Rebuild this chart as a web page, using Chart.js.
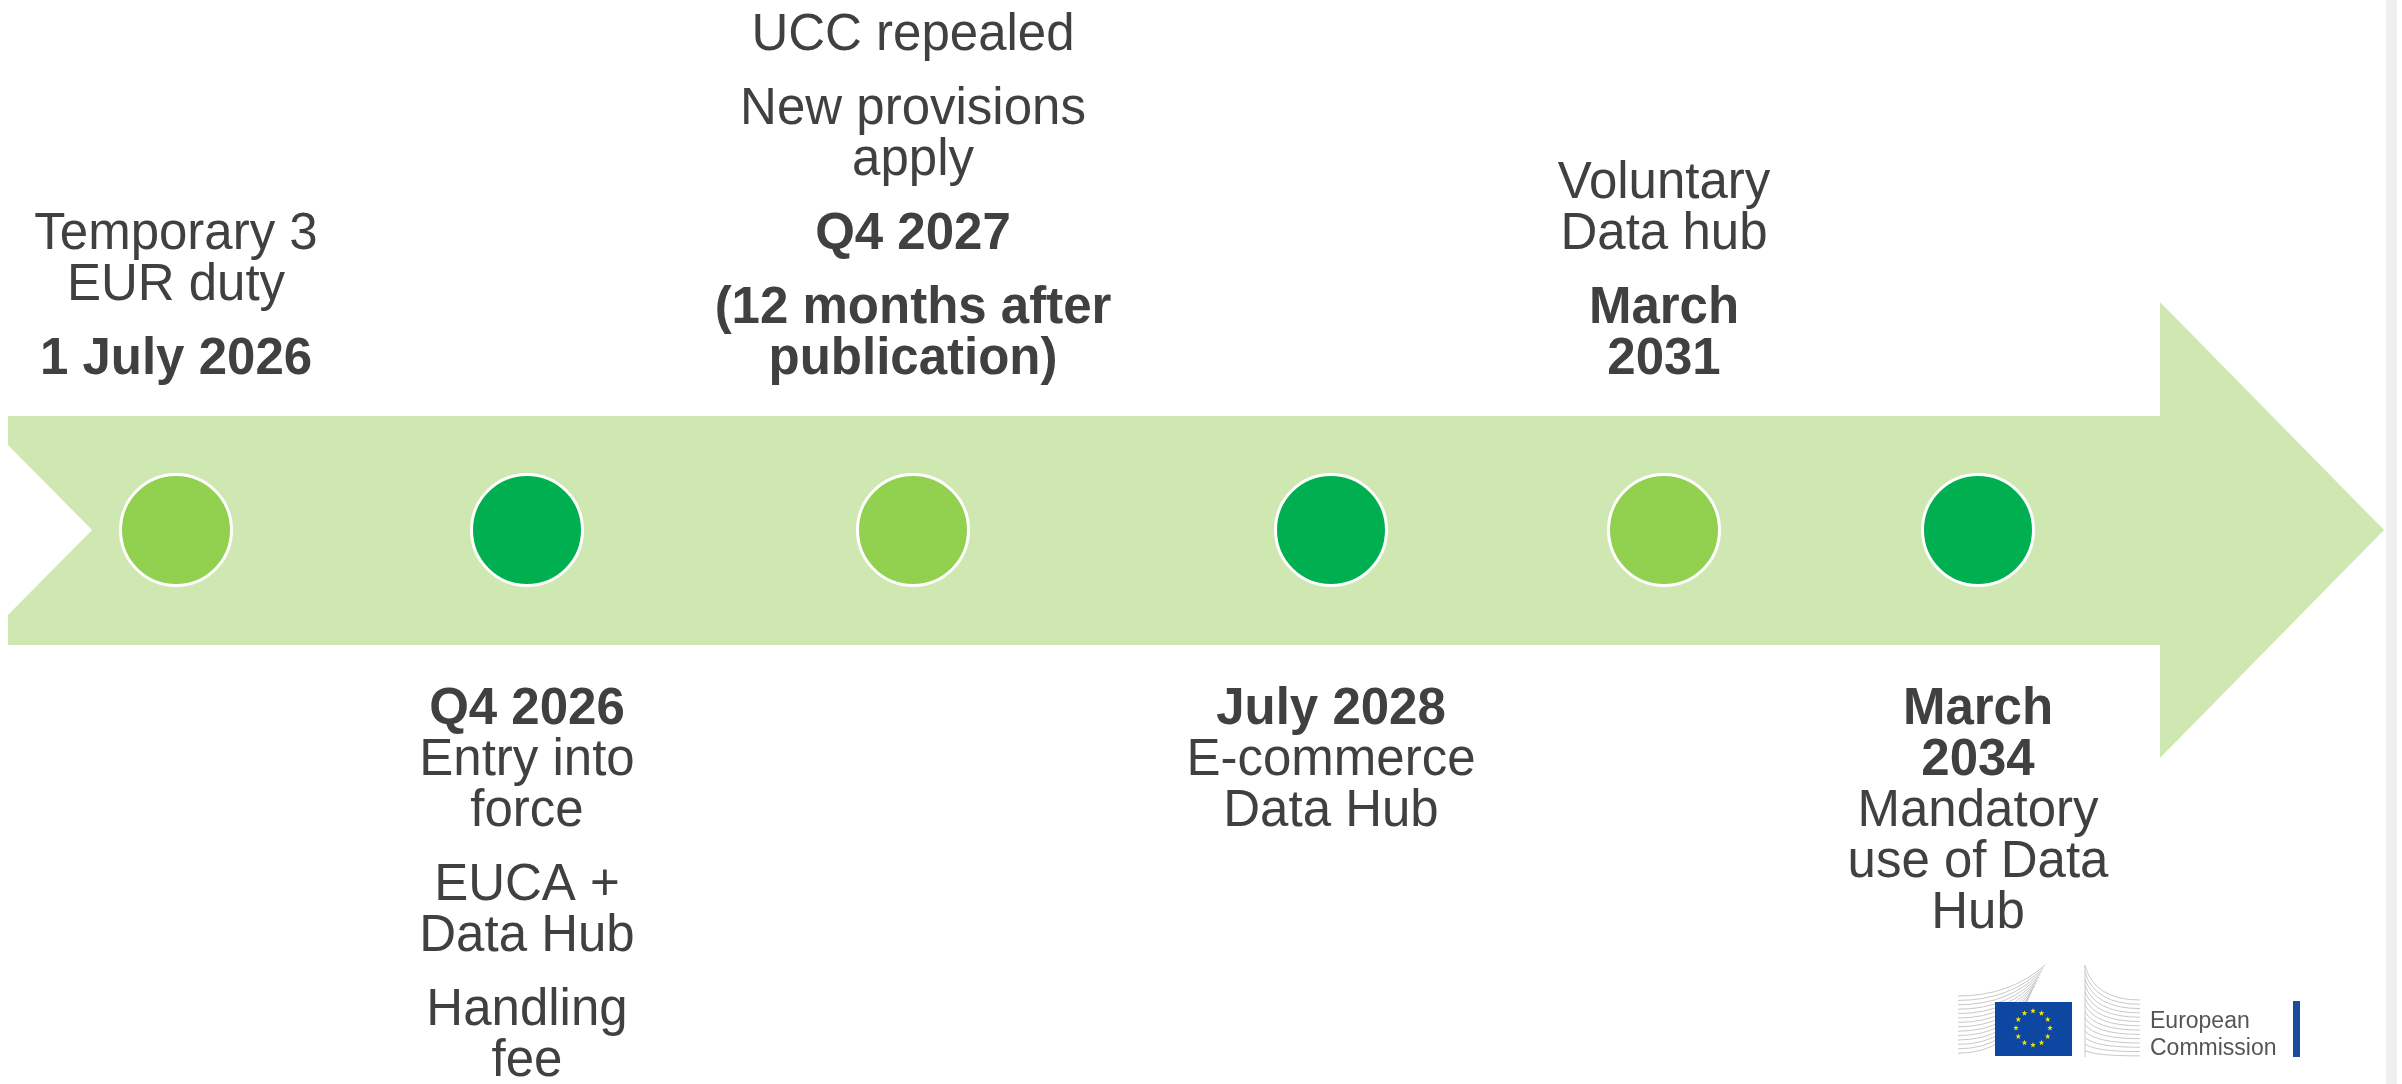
<!DOCTYPE html>
<html>
<head>
<meta charset="utf-8">
<script src="https://cdn.jsdelivr.net/npm/chart.js@4"></script>
<style>
  html, body { margin: 0; padding: 0; background: #fff; }
  canvas { display: block; }
</style>
</head>
<body>
<canvas id="timelineChart" width="2402" height="1084"></canvas>
<script>
// milestones along the arrow (x in slide units)
const milestones = ['1 July 2026', 'Q4 2026', 'Q4 2027', 'July 2028', 'March 2031', 'March 2034'];
const milestoneX = [176, 527, 913, 1331, 1664, 1978];
const milestoneY = [530, 530, 530, 530, 530, 530];
const milestoneTone = ['light', 'dark', 'light', 'dark', 'light', 'dark'];
const labelSide = ['top', 'bottom', 'top', 'bottom', 'top', 'bottom'];

// one block per milestone: paragraphs of lines, '*' = bold line
const labelText = [
    [['Temporary 3', 'EUR duty'], ['*1 July 2026']],
    [['*Q4 2026', 'Entry into', 'force'], ['EUCA +', 'Data Hub'], ['Handling', 'fee']],
    [['UCC repealed'], ['New provisions', 'apply'], ['*Q4 2027'], ['*(12 months after', '*publication)']],
    [['*July 2028', 'E-commerce', 'Data Hub']],
    [['Voluntary', 'Data hub'], ['*March', '*2031']],
    [['*March', '*2034', 'Mandatory', 'use of Data', 'Hub']]
];

// arrow outline (slide units)
const arrowX = [8, 2160, 2160, 2384, 2160, 2160, 8, 8, 92, 8];
const arrowY = [416, 416, 302, 530, 758, 645, 645, 615, 530, 445];

const FONT = '"Liberation Sans", Arial, sans-serif';

const arrowPlugin = {
    id: 'arrow',
    beforeDatasetsDraw(chart) {
        const { ctx, scales: { x, y } } = chart;
        ctx.save();
        // grey strip at the right edge of the slide
        ctx.fillStyle = '#efefef';
        ctx.fillRect(2386, 0, 11, chart.height);

        ctx.fillStyle = '#cfe8b1';
        ctx.beginPath();
        arrowX.forEach((v, i) => {
            const px = x.getPixelForValue(v);
            const py = y.getPixelForValue(arrowY[i]);
            if (i === 0) ctx.moveTo(px, py); else ctx.lineTo(px, py);
        });
        ctx.closePath();
        ctx.fill();
        ctx.restore();
    }
};

const labelPlugin = {
    id: 'labels',
    afterDatasetsDraw(chart) {
        const { ctx, scales: { x, y } } = chart;
        const lineGap = 51, paraGap = 74;
        ctx.save();
        ctx.fillStyle = '#404040';
        ctx.textAlign = 'center';
        ctx.textBaseline = 'alphabetic';
        labelText.forEach((paras, i) => {
            const rows = [];
            let off = 0;
            paras.forEach((p, pi) => {
                p.forEach((line, li) => {
                    if (rows.length) off += (li === 0 && pi > 0) ? paraGap : lineGap;
                    rows.push({ text: line, off });
                });
            });
            const cx = x.getPixelForValue(milestoneX[i]);
            const cy = y.getPixelForValue(milestoneY[i]);
            const start = labelSide[i] === 'top' ? cy - 156 - off : cy + 194;
            rows.forEach(r => {
                const bold = r.text.startsWith('*');
                ctx.font = (bold ? 'bold ' : '') + '51px ' + FONT;
                ctx.fillText(bold ? r.text.slice(1) : r.text, cx, start + r.off);
            });
        });
        ctx.restore();
    }
};

function star(ctx, cx, cy, r) {
    ctx.beginPath();
    for (let k = 0; k < 10; k++) {
        const rr = k % 2 ? r * 0.4 : r;
        const a = -Math.PI / 2 + k * Math.PI / 5;
        ctx.lineTo(cx + rr * Math.cos(a), cy + rr * Math.sin(a));
    }
    ctx.closePath();
    ctx.fill();
}

const logoPlugin = {
    id: 'logo',
    afterDraw(chart) {
        const { ctx } = chart;
        ctx.save();
        // building lines
        ctx.strokeStyle = '#c8c8c8';
        ctx.lineWidth = 1;
        for (let k = 0; k < 14; k++) {
            const y0 = 996 + k * 4.4;
            ctx.beginPath();
            ctx.moveTo(1958, y0);
            ctx.quadraticCurveTo(2010, y0, 2045 - k * 1.5, 965 + k * 3);
            ctx.stroke();
        }
        for (let k = 0; k < 14; k++) {
            ctx.beginPath();
            ctx.moveTo(2085, 966 + k * 6.5);
            ctx.quadraticCurveTo(2095, 1000 + k * 4.3, 2140, 1000 + k * 4.3);
            ctx.stroke();
        }
        ctx.beginPath();
        ctx.moveTo(2085, 965);
        ctx.lineTo(2085, 1057);
        ctx.stroke();
        // flag
        ctx.fillStyle = '#0e47a1';
        ctx.fillRect(1995, 1002, 77, 54);
        ctx.fillStyle = '#f5e600';
        for (let s = 0; s < 12; s++) {
            const a = s * Math.PI / 6;
            star(ctx, 2033 + 17 * Math.cos(a), 1028 + 17 * Math.sin(a), 3);
        }
        // text and bar
        ctx.fillStyle = '#555555';
        ctx.textAlign = 'left';
        ctx.font = '23px ' + FONT;
        ctx.fillText('European', 2150, 1028);
        ctx.fillText('Commission', 2150, 1055);
        ctx.fillStyle = '#1a4b9c';
        ctx.fillRect(2293, 1001, 7, 56);
        ctx.restore();
    }
};

new Chart(document.getElementById('timelineChart').getContext('2d'), {
    type: 'scatter',
    data: {
        labels: milestones,
        datasets: [{
            label: 'Milestones',
            data: milestoneX.map((v, i) => ({ x: v, y: milestoneY[i] })),
            pointRadius: 55.5,
            pointHoverRadius: 55.5,
            pointBorderWidth: 3,
            pointBorderColor: '#ffffff',
            pointBackgroundColor: milestoneTone.map(t => t === 'light' ? '#92d050' : '#00b050'),
            showLine: false
        }]
    },
    options: {
        responsive: false,
        animation: false,
        events: [],
        layout: { padding: 0, autoPadding: false },
        plugins: {
            legend: { display: false },
            tooltip: { enabled: false }
        },
        scales: {
            x: { type: 'linear', min: 0, max: 2402, display: false },
            y: { type: 'linear', min: 0, max: 1084, reverse: true, display: false }
        }
    },
    plugins: [arrowPlugin, labelPlugin, logoPlugin]
});
</script>
</body>
</html>
